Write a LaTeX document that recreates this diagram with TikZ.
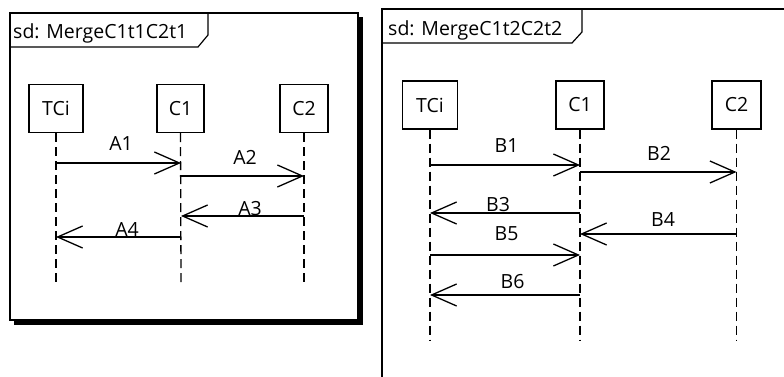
\documentclass[tikz,border=0pt]{standalone}
\usepackage{fontspec}
\setmainfont{Open Sans}
\usetikzlibrary{arrows.meta}
\begin{document}
\begin{tikzpicture}[x=1pt,y=-1pt,
  every node/.style={font=\fontsize{19.5}{22}\selectfont, inner sep=0pt},
  obj/.style={draw, line width=1.3pt, minimum height=48pt},
  life/.style={line width=1.3pt, dash pattern=on 9pt off 5pt},
  msg/.style={line width=1.3pt, -{Straight Barb[length=25pt,width=22pt,line width=1.3pt]}},
  frameline/.style={line width=1.2pt},
  lbl/.style={anchor=center}]
\useasboundingbox (0,0) rectangle (784,377);
\clip (0,0) rectangle (784,377);

% ---------- left frame ----------
\fill[black] (14,17) rectangle (362.5,324.5);
\draw[frameline, fill=white] (10,13) rectangle (358,320);
\draw[frameline] (10,47) -- (198,47) -- (208,35) -- (208,13);
\node[anchor=base west] (t1) at (13,39) {sd: MergeC1t1C2t1};

\node[obj, minimum width=54pt] (ltci) at (56,108.5) {TCi};
\node[obj, minimum width=47pt] (lc1) at (180.5,108.5) {C1};
\node[obj, minimum width=48pt] (lc2) at (304,108.5) {C2};
\coordinate (ltciE) at (56,282);
\coordinate (lc1E) at (181,282);
\coordinate (lc2E) at (304,282);
\draw[life] (ltci.south) -- (ltciE);
\draw[life] (lc1.south) -- (lc1E);
\draw[life] (lc2.south) -- (lc2E);

\coordinate (a1s) at (56,163);  \coordinate (a1e) at (181,163);
\coordinate (a2s) at (181,176); \coordinate (a2e) at (304,176);
\coordinate (a3s) at (304,216); \coordinate (a3e) at (181,216);
\coordinate (a4s) at (181,237); \coordinate (a4e) at (56,237);
\draw[msg] (a1s) -- (a1e);
\draw[msg] (a2s) -- (a2e);
\draw[msg] (a3s) -- (a3e);
\draw[msg] (a4s) -- (a4e);
\node[lbl] (la1) at (121,144) {A1};
\node[lbl] (la2) at (245,157) {A2};
\node[lbl] (la3) at (250,208.5) {A3};
\node[lbl] (la4) at (127,230) {A4};

% ---------- right frame ----------
\draw[frameline, line width=1.4pt] (382,400) -- (382,9) -- (800,9);
\draw[frameline] (382,43) -- (572,43) -- (582,32) -- (582,9);
\node[anchor=base west] (t2) at (388,36) {sd: MergeC1t2C2t2};

\node[obj, minimum width=55pt] (rtci) at (430,105) {TCi};
\node[obj, minimum width=48pt] (rc1) at (580,105) {C1};
\node[obj, minimum width=49pt] (rc2) at (736.5,105) {C2};
\coordinate (rtciE) at (430,340);
\coordinate (rc1E) at (580,340);
\coordinate (rc2E) at (736.5,340);
\draw[life] (rtci.south) -- (rtciE);
\draw[life] (rc1.south) -- (rc1E);
\draw[life] (rc2.south) -- (rc2E);

\coordinate (b1s) at (430,165); \coordinate (b1e) at (580,165);
\coordinate (b2s) at (580,172); \coordinate (b2e) at (736.5,172);
\coordinate (b3s) at (580,213); \coordinate (b3e) at (430,213);
\coordinate (b4s) at (736.5,234); \coordinate (b4e) at (580,234);
\coordinate (b5s) at (430,255); \coordinate (b5e) at (580,255);
\coordinate (b6s) at (580,295); \coordinate (b6e) at (430,295);
\draw[msg] (b1s) -- (b1e);
\draw[msg] (b2s) -- (b2e);
\draw[msg] (b3s) -- (b3e);
\draw[msg] (b4s) -- (b4e);
\draw[msg] (b5s) -- (b5e);
\draw[msg] (b6s) -- (b6e);
\node[lbl] (lb1) at (506.5,146) {B1};
\node[lbl] (lb2) at (659,153) {B2};
\node[lbl] (lb3) at (498,205) {B3};
\node[lbl] (lb4) at (663,219.5) {B4};
\node[lbl] (lb5) at (506.5,234) {B5};
\node[lbl] (lb6) at (512.5,281.5) {B6};
\end{tikzpicture}
\end{document}
